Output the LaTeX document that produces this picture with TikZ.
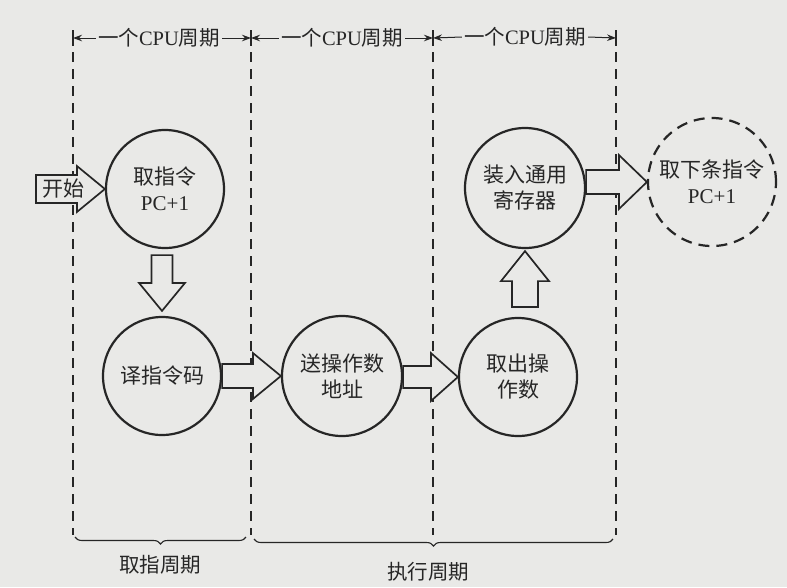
\documentclass[tikz,border=0pt]{standalone}
\usepackage{fontspec}
\setmainfont{Liberation Serif}
\newfontfamily\cjk{Noto Sans CJK SC}
\usetikzlibrary{arrows.meta,calc,decorations.pathreplacing}
\definecolor{bg}{RGB}{233,233,231}
\definecolor{ink}{RGB}{38,38,38}
\newcommand\txtsize{\fontsize{21}{26}\selectfont}
\newcommand\lblsize{\fontsize{20.5}{24}\selectfont}
% horizontal block arrow: from #1 to #2, shaft half #3, head half #4, head length #5
\newcommand\blkR[5]{\path[blk] let \p1=(#1), \p2=(#2) in
  ({\x1},{\y2+#3pt}) -- ({\x2-#5pt},{\y2+#3pt}) -- ({\x2-#5pt},{\y2+#4pt}) -- (\x2,\y2)
  -- ({\x2-#5pt},{\y2-#4pt}) -- ({\x2-#5pt},{\y2-#3pt}) -- ({\x1},{\y2-#3pt}) -- cycle;}
\newcommand\blkD[5]{\path[blk] let \p1=(#1), \p2=(#2) in
  ({\x2-#3pt},{\y1}) -- ({\x2-#3pt},{\y2+#5pt}) -- ({\x2-#4pt},{\y2+#5pt}) -- (\x2,\y2)
  -- ({\x2+#4pt},{\y2+#5pt}) -- ({\x2+#3pt},{\y2+#5pt}) -- ({\x2+#3pt},{\y1}) -- cycle;}
\newcommand\blkU[5]{\path[blk] let \p1=(#1), \p2=(#2) in
  ({\x2-#3pt},{\y1}) -- ({\x2-#3pt},{\y2-#5pt}) -- ({\x2-#4pt},{\y2-#5pt}) -- (\x2,\y2)
  -- ({\x2+#4pt},{\y2-#5pt}) -- ({\x2+#3pt},{\y2-#5pt}) -- ({\x2+#3pt},{\y1}) -- cycle;}
\begin{document}
\begin{tikzpicture}[x=1pt,y=-1pt,
  state/.style={circle, draw=ink, line width=2.2pt, minimum size=118pt, inner sep=0pt,
    align=center, font=\txtsize\cjk, text=ink},
  nextstate/.style={state, minimum size=128pt, dash pattern=on 11pt off 7pt},
  blk/.style={draw=ink, line width=1.7pt, fill=bg, line join=miter},
  vline/.style={draw=ink, line width=1.1pt, dash pattern=on 10pt off 7pt},
  tick/.style={draw=ink, line width=1.1pt},
  toplab/.style={font=\lblsize, text=ink, inner sep=2pt},
  tarr/.style={draw=ink, line width=1pt, -{Stealth[length=9pt,width=6.5pt]}},
  brc/.style={draw=ink, line width=1.1pt, decorate,
    decoration={brace, mirror, amplitude=7pt}},
  botlab/.style={font=\lblsize\cjk, text=ink}]
\useasboundingbox (0,0) rectangle (787,587);
\fill[bg] (0,0) rectangle (787,587);

% vertical period boundaries
\foreach \xx in {73,251,433,616}{
  \draw[tick] (\xx,30) -- (\xx,46);
  \draw[vline] (\xx,52) -- (\xx,535);
  \coordinate (v\xx) at (\xx,38);
}

% top labels
\node[toplab] (t1) at (159,38) {{\cjk 一个}CPU{\cjk 周期}};
\node[toplab] (t2) at (342,38) {{\cjk 一个}CPU{\cjk 周期}};
\node[toplab] (t3) at (525,37) {{\cjk 一个}CPU{\cjk 周期}};
\draw[tarr] (t1.west) -- (v73);
\draw[tarr] (t1.east) -- (v251);
\draw[tarr] (t2.west) -- (v251);
\draw[tarr] (t2.east) -- (v433);
\draw[tarr] (t3.west) -- (v433);
\draw[tarr] (t3.east) -- (v616);

% states
\node[state] (c1) at (165,189) {取指令\\{\rmfamily PC+1}};
\node[state] (c2) at (162,376) {译指令码};
\node[state, minimum size=120pt] (c3) at (342,376) {送操作数\\地址};
\node[state] (c4) at (518,377) {取出操\\作数};
\node[state, minimum size=120pt] (c5) at (525,188) {装入通用\\寄存器};
\node[nextstate] (c6) at (712,182) {取下条指令\\{\rmfamily PC+1}};

% block arrows
\coordinate (s0) at (36,189);
\blkR{s0}{c1.west}{14}{23}{28}
\node[font=\txtsize\cjk, text=ink, inner sep=0pt] (st) at (63,189) {开始};
\blkD{$(c1.south)+(0,6)$}{$(c2.north)+(0,-5)$}{10.5}{23}{28}
\blkR{c2.east}{c3.west}{12}{23}{28}
\blkR{c3.east}{c4.west}{11}{24}{27}
\blkU{$(c4.north)+(0,-10)$}{$(c5.south)+(0,2)$}{13}{24}{30}
\blkR{c5.east}{c6.west}{12}{27}{28}

% braces
\draw[brc] (75,537) -- (246,537);
\draw[brc] (254,539) -- (613,539);
\node[botlab] (b1) at (160,565) {取指周期};
\node[botlab] (b2) at (428,572) {执行周期};
\end{tikzpicture}
\end{document}
